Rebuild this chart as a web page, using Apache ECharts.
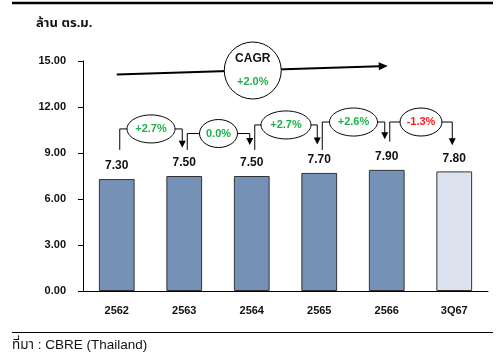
<!DOCTYPE html>
<html>
<head>
<meta charset="utf-8">
<script src="https://cdn.jsdelivr.net/npm/echarts@6/dist/echarts.min.js"></script>
<style>
html,body{margin:0;padding:0;background:#fff;}
#c{width:498px;height:356px;}
</style>
</head>
<body>
<div id="c"></div>
<script>
// ---- data ----
var categories = ['2562', '2563', '2564', '2565', '2566', '3Q67'];
var values = [7.30, 7.50, 7.50, 7.70, 7.90, 7.80];
var growthLabels = ['+2.7%', '0.0%', '+2.7%', '+2.6%', '-1.3%'];
var cagrLabel = '+2.0%';
var yTicks = [0, 3, 6, 9, 12, 15];

// ---- layout (annotation levels in value units) ----
var bracketLevel = [10.57, 10.27, 10.83, 11.02, 11.02];
var bracketStart = [9.2, 9.2, 9.2, 9.2, 9.74];
var bracketTip = [9.35, 9.52, 9.56, 9.89, 9.5];
var ellipseRx = [24, 19, 25, 24, 21];

var FONT = '"Liberation Sans", Arial, Helvetica, sans-serif';
var THAI = '"Liberation Sans", Arial, "Noto Sans Thai", "Tahoma", sans-serif';
var GREEN = '#1fb04c';
var RED = '#ff1a1a';

var chart = echarts.init(document.getElementById('c'), null, {renderer: 'canvas'});

var barData = values.map(function (v, i) {
  return {
    value: v,
    itemStyle: { color: i === values.length - 1 ? '#dde3ee' : '#7591b5' }
  };
});

chart.setOption({
  animation: false,
  backgroundColor: '#ffffff',
  grid: { left: 83, right: 10, top: 61, bottom: 65 },
  xAxis: {
    type: 'category',
    data: categories,
    axisLine: { lineStyle: { color: '#000', width: 1 } },
    axisTick: { show: false },
    axisLabel: { color: '#111', fontWeight: 'bold', fontSize: 11, fontFamily: FONT, margin: 14 }
  },
  yAxis: {
    type: 'value',
    min: yTicks[0],
    max: yTicks[yTicks.length - 1],
    interval: 3,
    axisLine: { show: true, lineStyle: { color: '#000', width: 1 } },
    axisTick: { show: true, length: 5, lineStyle: { color: '#000' } },
    splitLine: { show: false },
    axisLabel: {
      color: '#111', fontWeight: 'bold', fontSize: 11, fontFamily: FONT, margin: 17,
      formatter: function (v) { return v.toFixed(2); }
    }
  },
  series: [{
    type: 'bar',
    data: barData,
    barWidth: '53%',
    itemStyle: { borderColor: '#333', borderWidth: 1 },
    label: {
      show: true, position: 'top', distance: 7,
      color: '#111', fontWeight: 'bold', fontSize: 12, fontFamily: FONT,
      formatter: function (p) { return p.value.toFixed(2); }
    }
  }]
});

function px(i, v) { return chart.convertToPixel({ gridIndex: 0 }, [i, v]); }

var g = [];
// top and bottom rules
g.push({ type: 'line', shape: { x1: 12, y1: 3, x2: 493, y2: 3 }, style: { stroke: '#000', lineWidth: 2.5 } });
g.push({ type: 'line', shape: { x1: 12, y1: 332.5, x2: 493, y2: 332.5 }, style: { stroke: '#000', lineWidth: 1 } });
// unit title
g.push({ type: 'text', style: { text: 'ล้าน ตร.ม.', x: 36, y: 23, textVerticalAlign: 'middle', font: 'bold 13px ' + THAI, fill: '#111' } });
// source
g.push({ type: 'text', style: { text: 'ที่มา : CBRE (Thailand)', x: 12, y: 345, textVerticalAlign: 'middle', font: '13.5px ' + THAI, fill: '#111' } });

function arrowHead(x, y, dx, dy, len, half) {
  var n = Math.sqrt(dx * dx + dy * dy); dx /= n; dy /= n;
  var bx = x - dx * len, by = y - dy * len;
  return {
    type: 'polygon',
    shape: { points: [[x, y], [bx - dy * half, by + dx * half], [bx + dy * half, by - dx * half]] },
    style: { fill: '#000' }, z: 20
  };
}

// CAGR arrow
var a0 = px(0, 14.12), a1 = px(4, 14.67);
a1[0] += 1;
g.push({ type: 'line', shape: { x1: a0[0], y1: a0[1], x2: a1[0] - 8, y2: a1[1] + 0.3 }, style: { stroke: '#000', lineWidth: 2 }, z: 10 });
g.push(arrowHead(a1[0], a1[1], a1[0] - a0[0], a1[1] - a0[1], 9, 4));
var cc = px(2, 14.38);
cc[0] += 1;
g.push({ type: 'circle', shape: { cx: cc[0], cy: cc[1], r: 28.5 }, style: { fill: '#fff', stroke: '#000', lineWidth: 1 }, z: 30 });
g.push({ type: 'text', style: { text: 'CAGR', x: cc[0], y: cc[1] - 12, textAlign: 'center', textVerticalAlign: 'middle', font: 'bold 12px ' + FONT, fill: '#111' }, z: 31 });
g.push({ type: 'text', style: { text: cagrLabel, x: cc[0], y: cc[1] + 11, textAlign: 'center', textVerticalAlign: 'middle', font: 'bold 11px ' + FONT, fill: GREEN }, z: 31 });

// growth brackets
for (var i = 0; i < growthLabels.length; i++) {
  var pL = px(i, bracketStart[i]);
  var pLev = px(i, bracketLevel[i]);
  var pR = px(i + 1, bracketTip[i]);
  var xL = pL[0] + 3, xR = pR[0] - 2;
  var yLev = pLev[1];
  g.push({
    type: 'polyline',
    shape: { points: [[xL, pL[1]], [xL, yLev], [xR, yLev], [xR, pR[1] - 6]] },
    style: { stroke: '#000', lineWidth: 1, fill: null }, z: 10
  });
  g.push(arrowHead(xR, pR[1], 0, 1, 7, 3.5));
  var cx = (xL + xR) / 2;
  g.push({ type: 'ellipse', shape: { cx: cx, cy: yLev, rx: ellipseRx[i], ry: 14 }, style: { fill: '#fff', stroke: '#000', lineWidth: 1 }, z: 30 });
  g.push({
    type: 'text',
    style: {
      text: growthLabels[i], x: cx, y: yLev, textAlign: 'center', textVerticalAlign: 'middle',
      font: 'bold 11px ' + FONT, fill: growthLabels[i].charAt(0) === '-' ? RED : GREEN
    }, z: 31
  });
}

chart.setOption({ graphic: g });
</script>
</body>
</html>
